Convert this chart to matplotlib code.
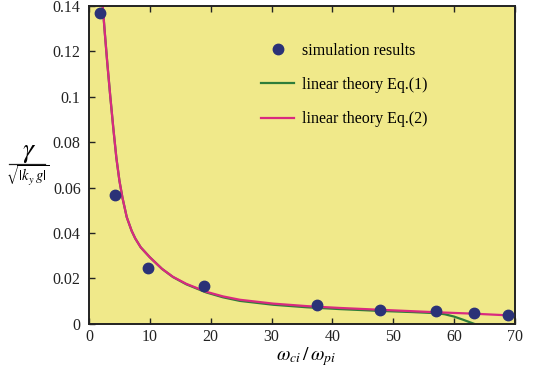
import matplotlib
matplotlib.use('Agg')
import matplotlib.pyplot as plt
from matplotlib.lines import Line2D

# simulation points
sim_x = [1.8, 4.3, 9.7, 18.9, 37.5, 47.8, 57.1, 63.3, 68.9]
sim_y = [0.137, 0.0568, 0.0247, 0.0167, 0.0084, 0.0063, 0.0055, 0.0047, 0.0040]

# linear theory Eq.(2)
eq2_x = [2.25, 2.6, 3.0, 3.5, 4.0, 4.5, 5.0, 5.5, 6.2, 7.0, 7.6, 8.5, 10, 12, 13.8,
         16, 19.3, 22, 24.8, 30.3, 35.8, 41.2, 47.8, 57.1, 63, 69.2]
eq2_y = [0.140, 0.128, 0.115, 0.100, 0.086, 0.073, 0.063, 0.0555, 0.0470, 0.0410,
         0.0376, 0.0337, 0.0293, 0.0242, 0.0207, 0.0176, 0.0141, 0.0121, 0.0106,
         0.0089, 0.0078, 0.0070, 0.0062, 0.0051, 0.0045, 0.0037]

# linear theory Eq.(1)
eq1_x = [2.25, 2.6, 3.0, 3.5, 4.0, 4.5, 5.0, 5.5, 6.2, 7.0, 7.6, 8.5, 10, 12, 13.8,
         16, 19.3, 22, 24.8, 30.3, 35.8, 41.2, 47.8, 53, 57.1, 58.5, 60, 61.5,
         62.5, 63.3]
eq1_y = [0.140, 0.128, 0.115, 0.100, 0.086, 0.073, 0.063, 0.0555, 0.0470, 0.0410,
         0.0376, 0.0337, 0.0293, 0.0242, 0.0206, 0.0174, 0.0138, 0.0117, 0.0101,
         0.0084, 0.0073, 0.0065, 0.0057, 0.0052, 0.0047, 0.0042, 0.0032, 0.0018,
         0.0008, 0.0]

xticks = [0, 10, 20, 30, 40, 50, 60, 70]
yticks = [0, 0.02, 0.04, 0.06, 0.08, 0.1, 0.12, 0.14]
ytick_labels = ['0', '0.02', '0.04', '0.06', '0.08', '0.1', '0.12', '0.14']

plt.rcParams['font.family'] = ['Liberation Serif', 'DejaVu Serif']
plt.rcParams['mathtext.fontset'] = 'stix'

fig = plt.figure(figsize=(5.33, 3.68), dpi=100)
ax = fig.add_axes([0.167, 0.12, 0.799, 0.864])
ax.set_facecolor('#F0E98A')

ax.plot(eq1_x, eq1_y, color='#2E7D3A', lw=1.6, label='linear theory Eq.(1)')
ax.plot(eq2_x, eq2_y, color='#D92A7F', lw=1.6, label='linear theory Eq.(2)')
ax.plot(sim_x, sim_y, 'o', color='#2B3277', ms=7.5, ls='none',
        label='simulation results', zorder=5)

ax.set_xlim(0, 70)
ax.set_ylim(0, 0.14)
ax.set_xticks(xticks)
ax.set_yticks(yticks)
ax.set_yticklabels(ytick_labels)
ax.tick_params(direction='in', length=4, width=1, labelsize=11.5, top=True,
               colors='#222222')
ax.tick_params(axis='x', pad=4)
ax.tick_params(axis='y', pad=6)
for s in ax.spines.values():
    s.set_linewidth(1.4)
    s.set_color('#222222')

h, l = ax.get_legend_handles_labels()
ax.legend([h[2], h[0], h[1]], [l[2], l[0], l[1]], loc='upper left',
          bbox_to_anchor=(0.37, 0.93), frameon=False, fontsize=11.5,
          handlelength=2.1, labelspacing=1.15, handletextpad=0.5)

# y label: gamma over sqrt(|k_y g|)
fig.text(0.054, 0.585, r'$\gamma$', fontsize=20, ha='center', va='center')
fig.add_artist(Line2D([0.017, 0.085], [0.553, 0.553], color='#222222', lw=0.9,
                      transform=fig.transFigure))
fig.text(0.051, 0.521, r'$\sqrt{|k_y\,g|}$', fontsize=10.5, ha='center',
         va='center')

fig.text(0.575, 0.020, r'$\omega_{ci}\,/\,\omega_{pi}$', fontsize=14,
         ha='center', va='baseline')

fig.savefig('out.png', dpi=100)
